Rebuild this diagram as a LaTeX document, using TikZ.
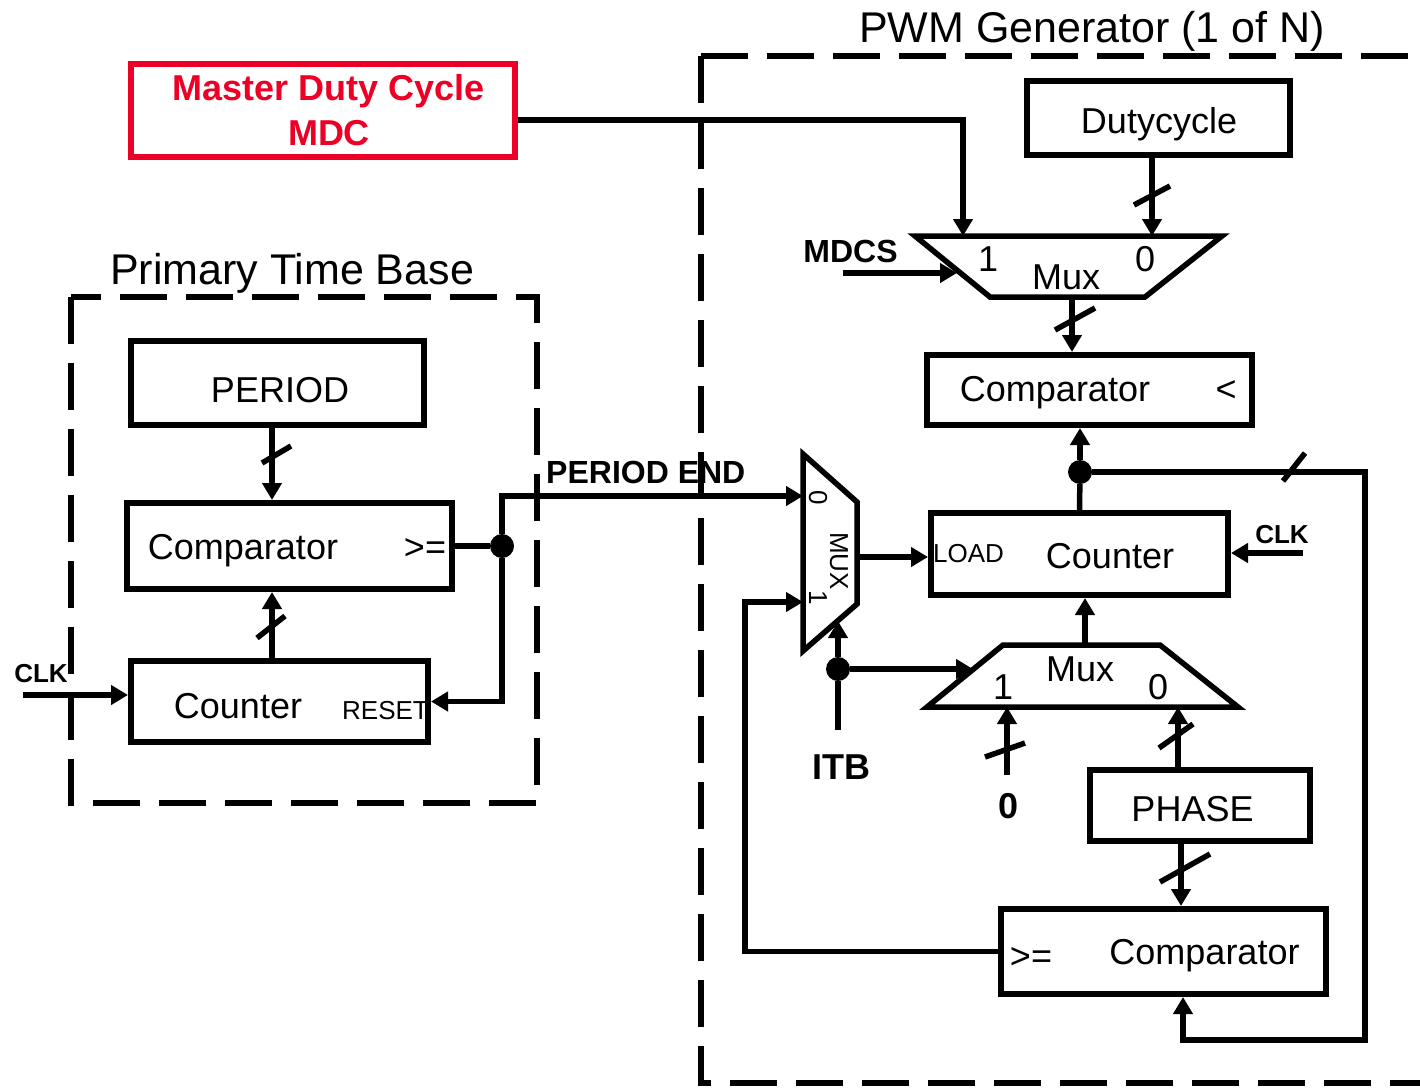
\documentclass[tikz,border=0pt]{standalone}
\usepackage{fontspec}
\setmainfont{Liberation Sans}
\usetikzlibrary{arrows.meta,calc}
\definecolor{mdcred}{RGB}{237,0,38}
\tikzset{
  wire/.style={line width=5.5pt},
  arr/.style={wire,-{Triangle[length=17pt,width=19pt]}},
  blk/.style={draw,line width=6pt,inner sep=0pt},
  dbox/.style={line width=6pt,dash pattern=on 47pt off 19pt},
  txt/.style={font=\fontsize{36}{40}\selectfont,inner sep=0pt,anchor=base},
  ttl/.style={font=\fontsize{43}{48}\selectfont,inner sep=0pt,anchor=base},
  smalltxt/.style={font=\fontsize{26}{30}\selectfont,inner sep=0pt,anchor=base},
  btxt/.style={font=\bfseries\fontsize{32}{36}\selectfont,inner sep=0pt,anchor=base},
  bsmall/.style={font=\bfseries\fontsize{26}{30}\selectfont,inner sep=0pt,anchor=base},
  bbig/.style={font=\bfseries\fontsize{36}{40}\selectfont,inner sep=0pt,anchor=base},
  jdot/.style={circle,fill,inner sep=0pt,minimum size=24pt},
  slash/.style={line width=5.5pt},
}
\begin{document}
\begin{tikzpicture}[x=1pt,y=-1pt]
\useasboundingbox[fill=white] (0,0) rectangle (1420,1087);

% ---------- dashed frames and titles
\draw[dbox] (71,297) rectangle (537,803);
\draw[dbox] (701,56) -- (1440,56);
\draw[dbox] (701,56) -- (701,1083) -- (1440,1083);
\node[ttl] (ptbt) at (292,284) {Primary Time Base};
\node[ttl] (pwmt) at (1092,42) {PWM Generator (1 of N)};

% ---------- Master duty cycle
\node[blk,draw=mdcred,minimum width=384pt,minimum height=93pt] (mdc) at (323,110.5) {};
\node[btxt,font=\bfseries\fontsize{36}{40}\selectfont,text=mdcred] (mdct1) at (329,100) {Master Duty Cycle};
\node[btxt,font=\bfseries\fontsize{36}{40}\selectfont,text=mdcred] (mdct2) at (329,145) {MDC};

% ---------- Primary time base blocks
\node[blk,minimum width=293pt,minimum height=84pt] (period) at (277.5,383) {};
\node[txt] (periodt) at (280,402) {PERIOD};
\node[blk,minimum width=325pt,minimum height=86pt] (lcmp) at (289.5,546) {};
\node[txt] (lcmpt) at (243,559) {Comparator};
\node[txt] (lcmpge) at (425,559) {>=};
\node[blk,minimum width=297pt,minimum height=81pt] (lcnt) at (279.5,701.5) {};
\node[txt] (lcntt) at (238,718) {Counter};
\node[smalltxt] (reset) at (385.5,719) {RESET};
\node[bsmall] (clkl) at (41,682) {CLK};

\coordinate (pa) at (272,0);
\draw[arr] (period.south -| pa) -- (lcmp.north -| pa);
\draw[slash] (262,463) -- (291,446);
\draw[arr] (lcnt.north -| pa) -- (lcmp.south -| pa);
\draw[slash] (257,638) -- (285,616);
\coordinate (clkls) at (23,695);
\draw[arr] (clkls) -- (clkls -| lcnt.west);
\node[jdot] (d1) at (502,546) {};
\draw[wire] (lcmp.east) -- (d1);
\draw[arr] (d1) |- (lcnt.east);

% ---------- vertical mux
\coordinate (vmA) at (803,454);
\coordinate (vmB) at (857,502);
\coordinate (vmC) at (857,604);
\coordinate (vmD) at (803,651);
\draw[wire] (vmA) -- (vmB) -- (vmC) -- (vmD) -- cycle;
\coordinate (vmin0) at (803,496);
\coordinate (vmin1) at (803,602);
\coordinate (vmout) at (857,557);
\coordinate (vmsel) at (838,621);
\node[smalltxt,anchor=center,rotate=-90] (vm0) at (818,498) {0};
\node[smalltxt,anchor=center,rotate=-90] (vmt) at (839,561) {MUX};
\node[smalltxt,anchor=center,rotate=-90] (vm1) at (818,598) {1};
\draw[arr] (d1) |- (vmin0);
\node[btxt,anchor=base west] (pend) at (546,483) {PERIOD END};

% ---------- top of PWM generator
\node[blk,minimum width=263pt,minimum height=74pt] (duty) at (1158.5,118) {};
\node[txt] (dutyt) at (1159,133) {Dutycycle};
\coordinate (tmA) at (915,236);
\coordinate (tmB) at (1222,236);
\coordinate (tmC) at (1145,297);
\coordinate (tmD) at (990,297);
\draw[wire] (tmA) -- (tmB) -- (tmC) -- (tmD) -- cycle;
\coordinate (tmin1) at (963,236);
\coordinate (tmin0) at (1152,236);
\coordinate (tmout) at (1072,297);
\coordinate (tmsel) at (957,273);
\node[txt] (tm1t) at (988,271) {1};
\node[txt] (tm0t) at (1145,271) {0};
\node[txt] (tmt) at (1066,289) {Mux};
\coordinate (mdcw) at (963,120);
\draw[arr] (mdc.east |- mdcw) -- (mdcw) -- (tmin1);
\draw[arr] (tmin0 |- duty.south) -- (tmin0);
\draw[slash] (1134,205) -- (1170,186);
\node[btxt] (mdcs) at (850.5,262) {MDCS};
\coordinate (mdcss) at (843,273);
\draw[arr] (mdcss) -- (tmsel);

\node[blk,minimum width=325pt,minimum height=70pt] (rcmp) at (1089.5,390) {};
\node[txt] (rcmpt) at (1055,401) {Comparator};
\node[txt] (rcmplt) at (1226,401) {<};
\draw[arr] (tmout) -- (tmout |- rcmp.north);
\draw[slash] (1055,330) -- (1095,308);

\node[blk,minimum width=297pt,minimum height=82pt] (rcnt) at (1079.5,554) {};
\node[smalltxt] (load) at (968.5,562) {LOAD};
\node[txt] (rcntt) at (1110,568) {Counter};
\node[bsmall] (clkr) at (1282,543) {CLK};
\coordinate (clkrs) at (1303,553);
\draw[arr] (clkrs) -- (clkrs -| rcnt.east);
\draw[arr] (vmout) -- (vmout -| rcnt.west);

\node[jdot] (d2) at (1080,472) {};
\draw[wire] (rcnt.north) -- (d2);
\draw[arr] (d2) -- (d2 |- rcmp.south);
\coordinate (fb1) at (1365,1040);
\coordinate (fb2) at (1183,1040);

% ---------- bottom mux, phase, comparator
\coordinate (bmA) at (927,707);
\coordinate (bmB) at (1238,707);
\coordinate (bmC) at (1160,645);
\coordinate (bmD) at (1003,645);
\draw[wire] (bmA) -- (bmB) -- (bmC) -- (bmD) -- cycle;
\coordinate (bmin1) at (1007,707);
\coordinate (bmin0) at (1178,707);
\coordinate (bmout) at (1085,645);
\coordinate (bmsel) at (973,669);
\node[txt] (bmt) at (1080,681) {Mux};
\node[txt] (bm1t) at (1003,699) {1};
\node[txt] (bm0t) at (1158,699) {0};
\draw[arr] (bmout) -- (bmout |- rcnt.south);

\node[jdot] (d3) at (838,669) {};
\node[bbig] (itb) at (841.5,779) {ITB};
\coordinate (itbs) at (838,730);
\draw[wire] (itbs) -- (d3);
\draw[arr] (d3) -- (vmsel);
\draw[arr] (d3) -- (bmsel);

\node[bbig] (zero) at (1008,818) {0};
\coordinate (zs) at (1007,775);
\draw[arr] (zs) -- (bmin1);
\draw[slash] (985,757) -- (1025,743);

\node[blk,minimum width=220pt,minimum height=71pt] (phase) at (1200,805.5) {};
\node[txt] (phaset) at (1192.5,821) {PHASE};
\draw[arr] (bmin0 |- phase.north) -- (bmin0);
\draw[slash] (1159,748) -- (1193,724);

\node[blk,minimum width=325pt,minimum height=85pt] (bcmp) at (1163.5,951.5) {};
\node[txt] (bcmpge) at (1031,968) {>=};
\node[txt] (bcmpt) at (1204.5,964) {Comparator};
\coordinate (pb) at (1181,0);
\draw[arr] (phase.south -| pb) -- (bcmp.north -| pb);
\draw[slash] (1160,882) -- (1210,854);

\draw[arr] (d2) -| (fb1) -- (fb2) -- (fb2 |- bcmp.south);
\draw[slash] (1283,481) -- (1305,453);

\coordinate (vmc) at (745,602);
\draw[arr] (bcmp.west) -| (vmc) -- (vmin1);
\end{tikzpicture}
\end{document}
